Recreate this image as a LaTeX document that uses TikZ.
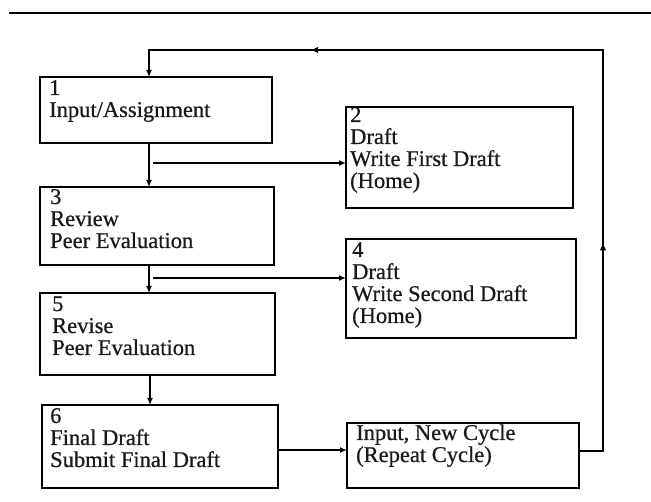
\documentclass[tikz,border=0pt]{standalone}
\usepackage{fontspec}
\setmainfont{Liberation Serif}[FakeBold=0.6]
\usetikzlibrary{arrows.meta,decorations.markings}
\begin{document}
\begin{tikzpicture}[x=1pt,y=-1pt,
  box/.style={draw=black,line width=1.8pt,anchor=north west,inner sep=0pt,outer sep=0pt},
  txt/.style={anchor=base west,inner sep=0pt,font=\fontsize{22.5}{22}\selectfont,text=black!90},
  conn/.style={draw=black,line width=1.3pt},
  tip/.style={-{Latex[length=7pt,width=6pt]}},
  arr/.style={conn,tip},
  midarr/.style={conn,postaction={decorate},decoration={markings,mark=at position #1 with {\arrow[line width=1.3pt]{Latex[length=8pt,width=6.5pt]}}}},
  bottomedge/.style={line width=2.8pt}
]
\useasboundingbox (0,0) rectangle (651,502);
% top rule
\draw[line width=2.5pt] (9,13) -- (651,13);

% boxes
\node[box, minimum width=232pt, minimum height=66pt]  (b1) at (40,77)  {};
\node[box, minimum width=227pt, minimum height=101pt] (b2) at (346,107) {};
\node[box, minimum width=234pt, minimum height=78pt]  (b3) at (40,187)  {};
\node[box, minimum width=230pt, minimum height=99pt]  (b4) at (346,239) {};
\node[box, minimum width=235pt, minimum height=82pt]  (b5) at (40,293)  {};
\node[box, minimum width=236pt, minimum height=83pt]  (b6) at (42,405)  {};
\node[box, minimum width=232pt, minimum height=65pt]  (b7) at (347,423) {};
\foreach \b in {b1,b2,b3,b4,b5,b6,b7}{
  \draw[bottomedge] (\b.south west) -- (\b.south east);
}

% texts
\node[txt] (t1) at (49,95)  {\parbox[t]{220pt}{\raggedright 1\\Input/Assignment}};
\node[txt] (t2) at (350,122) {\parbox[t]{220pt}{\raggedright 2\\Draft\\Write First Draft\\(Home)}};
\node[txt] (t3) at (50,204) {\parbox[t]{220pt}{\raggedright 3\\Review\\Peer Evaluation}};
\node[txt] (t4) at (352,257) {\parbox[t]{220pt}{\raggedright 4\\Draft\\Write Second Draft\\(Home)}};
\node[txt] (t5) at (52,311) {\parbox[t]{220pt}{\raggedright 5\\Revise\\Peer Evaluation}};
\node[txt] (t6) at (50,423) {\parbox[t]{220pt}{\raggedright 6\\Final Draft\\Submit Final Draft}};
\node[txt] (t7) at (356,440) {\parbox[t]{220pt}{\raggedright Input, New Cycle\\(Repeat Cycle)}};

% helper coordinates
\coordinate (v1) at (149,0);
\coordinate (v2) at (150,0);
\coordinate (j1) at (153,163);
\coordinate (j2) at (153,278);
\coordinate (h6) at (0,450);
\coordinate (c1) at (603,451);
\coordinate (c2) at (603,50);
\coordinate (c3) at (149,50);

% vertical flow
\draw[arr] (b1.south -| v1) -- (b3.north -| v1);
\draw[arr] (b3.south -| v1) -- (b5.north -| v1);
\draw[arr] (b5.south -| v2) -- (b6.north -| v2);

% branches to draft boxes
\draw[arr] (j1) -- (j1 -| b2.west);
\draw[arr] (j2) -- (j2 -| b4.west);

% final to new cycle
\draw[arr] (b6.east |- h6) -- (b7.west |- h6);

% loop back
\draw[arr] (b7.east |- c1) -- (c1) -- (c2) -- (c3) -- (c3 |- b1.north);
\path[midarr=0.52] (c1) -- (c2);
\path[midarr=0.645] (c2) -- (c3);
\end{tikzpicture}
\end{document}
